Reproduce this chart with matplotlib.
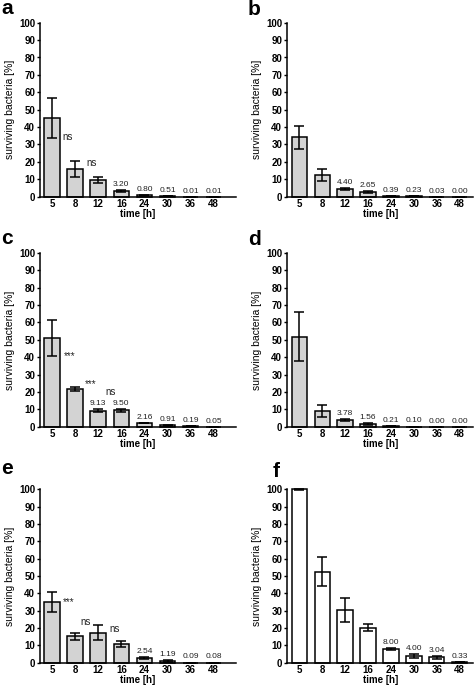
import numpy as np
import matplotlib
matplotlib.use('Agg')
import matplotlib.pyplot as plt

plt.rcParams['font.family'] = ['Liberation Sans', 'DejaVu Sans']

times = ['5', '8', '12', '16', '24', '30', '36', '48']

# mean survival [%] and error per time point, one pair per panel
means_a = [45.0, 16.0, 9.6, 3.20, 0.80, 0.51, 0.01, 0.01]
err_a = [11.5, 4.8, 1.7, 0.5, 0.2, 0.1, 0.0, 0.0]
means_b = [34.3, 12.5, 4.40, 2.65, 0.39, 0.23, 0.03, 0.00]
err_b = [6.6, 3.5, 0.6, 0.7, 0.1, 0.1, 0.0, 0.0]
means_c = [51.0, 21.7, 9.13, 9.50, 2.16, 0.91, 0.19, 0.05]
err_c = [10.5, 1.0, 0.8, 0.8, 0.2, 0.3, 0.05, 0.0]
means_d = [51.9, 9.0, 3.78, 1.56, 0.21, 0.10, 0.00, 0.00]
err_d = [14.3, 3.3, 0.6, 0.3, 0.05, 0.0, 0.0, 0.0]
means_e = [35.2, 15.2, 17.3, 10.8, 2.54, 1.19, 0.09, 0.08]
err_e = [5.8, 2.1, 4.4, 2.0, 0.5, 0.5, 0.0, 0.0]
means_f = [100.0, 52.5, 30.4, 20.2, 8.00, 4.00, 3.04, 0.33]
err_f = [0.3, 8.2, 7.2, 2.0, 0.5, 1.2, 0.8, 0.1]

# first bar that gets a printed value above it
first_labelled = {'a': 3, 'b': 2, 'c': 2, 'd': 2, 'e': 4, 'f': 4}

# significance marks: (x, y, text)
sig_a = [(0.46, 34.5, 'ns'), (1.47, 19.2, 'ns')]
sig_c = [(0.52, 40.5, '***'), (1.43, 24.8, '***'), (2.32, 20.2, 'ns')]
sig_e = [(0.46, 35.0, '***'), (1.24, 23.6, 'ns'), (2.48, 19.4, 'ns')]

panels = [
    ('a', means_a, err_a, sig_a, '#d3d3d3'),
    ('b', means_b, err_b, [], '#d3d3d3'),
    ('c', means_c, err_c, sig_c, '#d3d3d3'),
    ('d', means_d, err_d, [], '#d3d3d3'),
    ('e', means_e, err_e, sig_e, '#d3d3d3'),
    ('f', means_f, err_f, [], 'white'),
]

W, H = 474, 689
fig = plt.figure(figsize=(W / 100, H / 100), dpi=100)

# pixel layout
col_left = [40, 287]
col_width = [195.7, 186.4]
col_xlim = [(-0.52, 7.95), (-0.54, 7.6)]
row_zero = [196.7, 426.7, 662.7]
row_top = [22.7, 253.0, 489.3]
label_pos = {'a': (1, 14), 'b': (248, 15), 'c': (1, 244), 'd': (248, 245),
             'e': (1, 474), 'f': (273, 477)}

x = np.arange(len(times))

for i, (name, means, errs, sig, color) in enumerate(panels):
    row, col = divmod(i, 2)
    left = col_left[col] / W
    bottom = (H - row_zero[row]) / H
    height = (row_zero[row] - row_top[row]) / H
    ax = fig.add_axes([left, bottom, col_width[col] / W, height])

    ax.bar(x, means, width=0.67, color=color, edgecolor='black',
           linewidth=1.1, clip_on=False, zorder=2)
    ax.errorbar(x, means, yerr=errs, fmt='none', ecolor='black',
                elinewidth=1.1, capsize=3.5, capthick=1.1, clip_on=False,
                zorder=3)

    for j in range(first_labelled[name], len(times)):
        ax.annotate('%.2f' % means[j], (x[j], means[j] + errs[j]),
                    xytext=(0, 1.5), textcoords='offset points',
                    ha='center', va='bottom', fontsize=6, color='#222222')

    for sx, sy, txt in sig:
        ax.text(sx, sy, txt, ha='left', va='center',
                fontsize=7, color='#222222')

    ax.set_xlim(*col_xlim[col])
    ax.set_ylim(0, 100)
    ax.set_yticks(np.arange(0, 101, 10))
    ax.set_xticks(x)
    ax.set_xticklabels(times)
    for lab in ax.get_xticklabels() + ax.get_yticklabels():
        lab.set_fontweight('bold')
    ax.tick_params(axis='y', length=2.5, width=1.0, labelsize=7, pad=1)
    ax.tick_params(axis='x', length=0, labelsize=7, pad=1.5)
    ax.spines['top'].set_visible(False)
    ax.spines['right'].set_visible(False)
    ax.spines['left'].set_linewidth(1.1)
    ax.spines['bottom'].set_linewidth(1.1)
    ax.set_ylabel('surviving bacteria [%]', fontsize=7.5, labelpad=3)
    ax.set_xlabel('time [h]', fontsize=7, fontweight='bold', labelpad=0.3)

    lx, ly = label_pos[name]
    fig.text(lx / W, 1 - ly / H, name, fontsize=15, fontweight='bold',
             ha='left', va='baseline')

fig.savefig('out.png', dpi=100)
